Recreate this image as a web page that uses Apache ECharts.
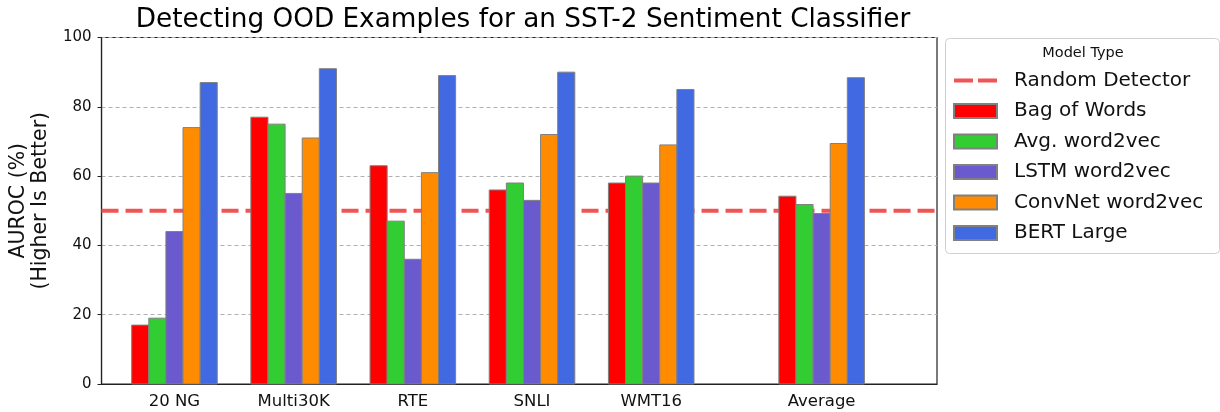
<!DOCTYPE html>
<html>
<head>
<meta charset="utf-8">
<script src="https://cdn.jsdelivr.net/npm/echarts@6/dist/echarts.min.js"></script>
<style>html,body{margin:0;padding:0;background:#fff;}#c{width:1220px;height:412px;}</style>
</head>
<body>
<div id="c"></div>
<script>
// ---- data ----
const categories = ['20 NG', 'Multi30K', 'RTE', 'SNLI', 'WMT16', 'Average'];
const groupPos = [0, 1, 2, 3, 4, 5.43];
const modelNames = ['Bag of Words', 'Avg. word2vec', 'LSTM word2vec', 'ConvNet word2vec', 'BERT Large'];
const bagOfWords = [17, 77, 63, 56, 58, 54.2];
const avgWord2vec = [19, 75, 47, 58, 60, 51.8];
const lstmWord2vec = [44, 55, 36, 53, 58, 49.2];
const convnetWord2vec = [74, 71, 61, 72, 69, 69.4];
const bertLarge = [87, 91, 89, 90, 85, 88.4];
const randomLevel = 50;
const yTicks = [0, 20, 40, 60, 80, 100];

const seriesValues = [bagOfWords, avgWord2vec, lstmWord2vec, convnetWord2vec, bertLarge];
const colors = ['#ff0000', '#32cd32', '#6a5acd', '#ff8c00', '#4169e1'];
const X_MIN = -0.612, X_MAX = 6.398;
const BAR_W = 0.1436;

const chart = echarts.init(document.getElementById('c'), null, {renderer: 'canvas'});

const barSeries = seriesValues.map((vals, si) => ({
  name: modelNames[si],
  type: 'custom',
  z: 3,
  itemStyle: {color: colors[si], borderColor: '#808080', borderWidth: 1},
  data: vals.map((v, i) => [groupPos[i], v]),
  renderItem: function (params, api) {
    const pos = api.value(0), v = api.value(1);
    const base = api.coord([pos, 0]);
    const top = api.coord([pos, v]);
    const unit = api.size([1, 0])[0];
    const w = unit * BAR_W;
    const x = base[0] + (si - 2) * w - w / 2;
    return {
      type: 'rect',
      shape: {x: x, y: top[1], width: w, height: base[1] - top[1]},
      style: api.style()
    };
  }
}));

const option = {
  animation: false,
  backgroundColor: '#fff',
  textStyle: {fontFamily: 'DejaVu Sans'},
  title: {
    text: 'Detecting OOD Examples for an SST-2 Sentiment Classifier',
    left: 523, textAlign: 'center', top: 7, padding: 0,
    textStyle: {fontFamily: 'DejaVu Sans', fontSize: 26.3, fontWeight: 'normal', color: '#000'}
  },
  grid: {left: 99, right: 283, top: 37.5, bottom: 28, show: true, borderColor: '#222', borderWidth: 1.2, backgroundColor: 'transparent'},
  legend: {
    orient: 'vertical', left: 953, top: 70.5, padding: 0,
    itemWidth: 43, itemHeight: 14, itemGap: 10.5,
    textStyle: {fontFamily: 'DejaVu Sans', fontSize: 20, color: '#111', padding: [0, 0, 0, 12]},
    data: [{name: 'Random Detector', icon: 'path://M0,0h19v4h-19z M24,0h19v4h-19z'}].concat(modelNames.map(n => ({name: n, icon: 'rect'})))
  },
  graphic: [
    {type: 'rect', left: 945, top: 38, z: -1, shape: {width: 274, height: 215, r: 4}, style: {fill: '#fff', stroke: '#d0d0d0', lineWidth: 1}},
    {type: 'text', x: 1083, y: 53, style: {text: 'Model Type', fontFamily: 'DejaVu Sans', fontSize: 14.5, fill: '#111', align: 'center', verticalAlign: 'middle'}}
  ],
  xAxis: {
    type: 'value', min: X_MIN, max: X_MAX,
    splitLine: {show: false},
    axisTick: {show: false},
    axisLine: {lineStyle: {color: '#222', width: 1.2}},
    axisLabel: {
      customValues: groupPos,
      formatter: function (v) { const i = groupPos.findIndex(p => Math.abs(p - v) < 1e-6); return i >= 0 ? categories[i] : ''; },
      fontFamily: 'DejaVu Sans', fontSize: 16.5, color: '#111', margin: 9
    }
  },
  yAxis: {
    type: 'value', min: 0, max: 100, interval: 20,
    name: 'AUROC (%)\n(Higher Is Better)', nameLocation: 'middle', nameGap: 46, nameRotate: 90,
    nameTextStyle: {fontFamily: 'DejaVu Sans', fontSize: 20.5, color: '#111', lineHeight: 22, padding: [0, 0, 0, 20]},
    axisLine: {show: true, onZero: false, lineStyle: {color: '#222', width: 1.2}},
    axisTick: {show: true, length: 4, lineStyle: {color: '#222'}},
    axisLabel: {fontFamily: 'DejaVu Sans', fontSize: 15, color: '#111', margin: 10,
      formatter: v => yTicks.includes(v) ? String(v) : ''},
    splitLine: {show: true, lineStyle: {color: '#b0b0b0', type: [4, 3], width: 1}}
  },
  series: [{
    name: 'Random Detector',
    type: 'line', z: 2,
    symbol: 'none',
    lineStyle: {color: '#f05454', width: 4, type: [17, 7]},
    itemStyle: {color: '#f05454'},
    data: [[X_MIN, randomLevel], [X_MAX, randomLevel]]
  }].concat(barSeries)
};
chart.setOption(option);
</script>
</body>
</html>
